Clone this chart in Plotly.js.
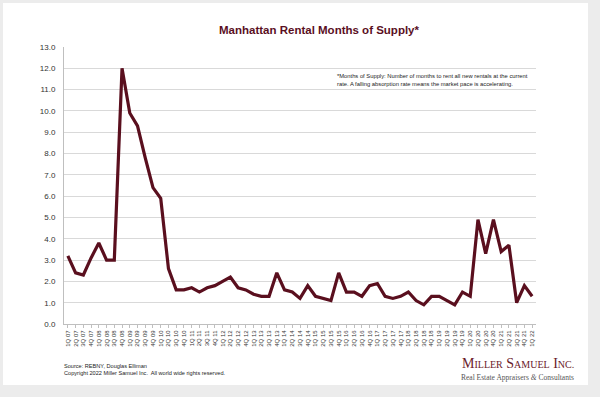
<!DOCTYPE html>
<html>
<head>
<meta charset="utf-8">
<script src="https://cdn.plot.ly/plotly-3.0.1.min.js"></script>
<style>
  html, body { margin: 0; padding: 0; width: 600px; height: 397px; background: #ececec; overflow: hidden; }
  #card { position: absolute; left: 3px; top: 3px; width: 585px; height: 382px; background: #ffffff; }
  #chart { position: absolute; left: 0; top: 0; width: 600px; height: 397px; }
</style>
</head>
<body>
<div id="card"></div>
<div id="chart"></div>
<script>
// Quarter labels 1Q 07 .. 1Q 22
const quarters = [
  "1Q 07","2Q 07","3Q 07","4Q 07",
  "1Q 08","2Q 08","3Q 08","4Q 08",
  "1Q 09","2Q 09","3Q 09","4Q 09",
  "1Q 10","2Q 10","3Q 10","4Q 10",
  "1Q 11","2Q 11","3Q 11","4Q 11",
  "1Q 12","2Q 12","3Q 12","4Q 12",
  "1Q 13","2Q 13","3Q 13","4Q 13",
  "1Q 14","2Q 14","3Q 14","4Q 14",
  "1Q 15","2Q 15","3Q 15","4Q 15",
  "1Q 16","2Q 16","3Q 16","4Q 16",
  "1Q 17","2Q 17","3Q 17","4Q 17",
  "1Q 18","2Q 18","3Q 18","4Q 18",
  "1Q 19","2Q 19","3Q 19","4Q 19",
  "1Q 20","2Q 20","3Q 20","4Q 20",
  "1Q 21","2Q 21","3Q 21","4Q 21",
  "1Q 22"
];

const monthsOfSupply = [
  3.2, 2.4, 2.3, 3.1,
  3.8, 3.0, 3.0, 12.0,
  9.9, 9.3, 7.8, 6.4,
  5.9, 2.6, 1.6, 1.6,
  1.7, 1.5, 1.7, 1.8,
  2.0, 2.2, 1.7, 1.6,
  1.4, 1.3, 1.3, 2.4,
  1.6, 1.5, 1.2, 1.8,
  1.3, 1.2, 1.1, 2.4,
  1.5, 1.5, 1.3, 1.8,
  1.9, 1.3, 1.2, 1.3,
  1.5, 1.1, 0.9, 1.3,
  1.3, 1.1, 0.9, 1.5,
  1.3, 4.9, 3.3, 4.9,
  3.4, 3.7, 1.0, 1.8,
  1.3
];

const yTicks = [0,1,2,3,4,5,6,7,8,9,10,11,12,13];

const titleText = "Manhattan Rental Months of Supply*";
const noteLines = [
  "*Months of Supply: Number of months to rent all new rentals at the current",
  "rate. A falling absorption rate means the market pace is accelerating."
];
const sourceText = "Source: REBNY, Douglas Elliman";
const copyrightText = "Copyright 2022 Miller Samuel Inc.  All world wide rights reserved.";

const maroon = "#5a0f1e";

const trace = {
  x: quarters,
  y: monthsOfSupply,
  type: "scatter",
  mode: "lines",
  line: { color: maroon, width: 3.2 },
  hoverinfo: "skip"
};

const layout = {
  width: 600,
  height: 397,
  margin: { l: 64, r: 64, t: 47, b: 73 },
  paper_bgcolor: "rgba(0,0,0,0)",
  plot_bgcolor: "rgba(0,0,0,0)",
  showlegend: false,
  font: { family: "Liberation Sans, Arial, sans-serif", color: "#333" },
  xaxis: {
    type: "category",
    range: [-0.5, quarters.length - 0.5],
    tickmode: "linear",
    dtick: 1,
    tickangle: -90,
    tickfont: { size: 6, color: "#333" },
    showgrid: false,
    showline: true,
    linecolor: "#bfbfbf",
    linewidth: 1,
    ticks: "outside",
    ticklen: 3,
    tickcolor: "#bfbfbf",
    zeroline: false,
    fixedrange: true
  },
  yaxis: {
    range: [0, 13],
    tickmode: "array",
    tickvals: yTicks,
    ticktext: yTicks.map(v => v.toFixed(1)),
    tickfont: { size: 8, color: "#333" },
    showgrid: true,
    gridcolor: "#d9d9d9",
    gridwidth: 1,
    showline: true,
    linecolor: "#bfbfbf",
    linewidth: 1,
    zeroline: false,
    ticks: "",
    ticklabelstandoff: 6,
    fixedrange: true
  },
  annotations: [
    {
      text: "<b>" + titleText + "</b>",
      xref: "paper", yref: "paper",
      x: (319 - 64) / 472, y: 1 + (47 - 30) / 277,
      xanchor: "center", yanchor: "middle",
      showarrow: false,
      font: { size: 11.5, color: maroon, family: "Liberation Sans, Arial, sans-serif" }
    },
    {
      text: noteLines.join("<br>"),
      xref: "paper", yref: "paper",
      x: (335 - 64) / 472, y: 1 - (80 - 47) / 277,
      xanchor: "left", yanchor: "middle", align: "left",
      showarrow: false,
      font: { size: 5.8, color: "#222", family: "Liberation Sans, Arial, sans-serif" }
    },
    {
      text: sourceText + "<br>" + copyrightText,
      xref: "paper", yref: "paper",
      x: (62 - 64) / 472, y: -(369.5 - 324) / 277,
      xanchor: "left", yanchor: "middle", align: "left",
      showarrow: false,
      font: { size: 5.6, color: "#222", family: "Liberation Sans, Arial, sans-serif" }
    },
    {
      text: "M<span style='font-size:10px'>ILLER</span> S<span style='font-size:10px'>AMUEL</span> I<span style='font-size:10px'>NC.</span>",
      xref: "paper", yref: "paper",
      x: (518 - 64) / 472, y: -(363 - 324) / 277,
      xanchor: "center", yanchor: "middle",
      showarrow: false,
      font: { size: 14, color: "#6b1a2a", family: "Liberation Serif, Times New Roman, serif" }
    },
    {
      text: "Real Estate Appraisers <i>&amp;</i> Consultants",
      xref: "paper", yref: "paper",
      x: (517 - 64) / 472, y: -(377 - 324) / 277,
      xanchor: "center", yanchor: "middle",
      showarrow: false,
      font: { size: 7.5, color: "#555", family: "Liberation Serif, Times New Roman, serif" }
    }
  ]
};

Plotly.newPlot("chart", [trace], layout, { staticPlot: true, displayModeBar: false });
</script>
</body>
</html>
